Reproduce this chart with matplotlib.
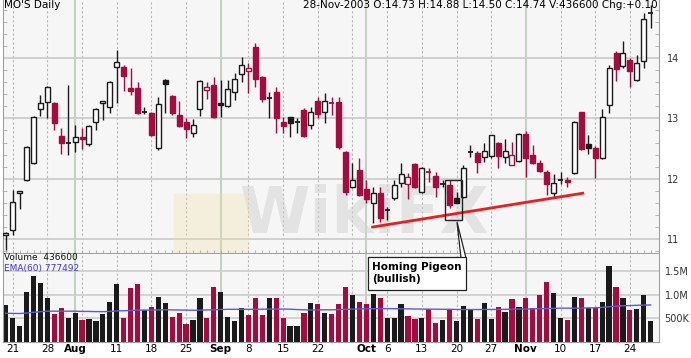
import matplotlib.pyplot as plt
import matplotlib.patches as mpatches

# daily candles, 18-Jul-2003 .. 28-Nov-2003 (trading days)
opens = [11.07, 11.15, 11.76, 11.98, 12.26, 13.15, 13.27, 13.25, 12.71, 12.58,
         12.61, 12.69, 12.57, 12.94, 13.25, 13.19, 13.85, 13.85, 13.50, 13.50,
         13.09, 13.09, 12.51, 13.64, 13.37, 13.05, 12.94, 12.76, 13.15, 13.47,
         13.55, 13.26, 13.20, 13.44, 13.73, 13.78, 14.18, 13.68, 13.31, 13.44,
         12.94, 13.02, 12.93, 13.14, 12.89, 13.29, 13.10, 13.27, 13.27, 12.44,
         11.86, 12.14, 11.83, 11.60, 11.76, 11.47, 11.68, 11.93, 11.91, 12.24,
         11.78, 12.09, 12.04, 11.90, 11.89, 11.68, 11.69, 12.43, 12.42, 12.36,
         12.37, 12.59, 12.36, 12.23, 12.29, 12.74, 12.39, 12.26, 12.11, 11.76,
         11.97, 11.98, 12.09, 13.10, 12.57, 12.51, 12.34, 13.22, 14.08, 13.87,
         13.97, 13.64, 13.95, 14.73]
highs = [11.12, 11.81, 11.80, 12.54, 13.04, 13.39, 13.53, 13.27, 12.84, 13.55,
         12.89, 12.84, 12.89, 13.17, 13.29, 13.62, 14.13, 13.88, 13.83, 13.60,
         13.19, 13.10, 13.35, 13.65, 13.38, 13.29, 13.00, 12.99, 13.63, 13.60,
         13.68, 13.64, 13.64, 13.75, 14.02, 13.92, 14.25, 13.70, 13.44, 13.52,
         13.02, 13.03, 13.00, 13.17, 13.19, 13.35, 13.42, 13.35, 13.35, 12.46,
         12.26, 12.34, 11.98, 11.86, 11.86, 11.53, 11.98, 12.26, 12.09, 12.26,
         12.19, 12.18, 12.11, 11.98, 11.98, 11.78, 12.23, 12.56, 12.46, 12.59,
         12.73, 12.61, 12.66, 12.61, 12.76, 12.79, 12.56, 12.31, 12.14, 12.08,
         12.11, 12.03, 12.96, 13.11, 12.72, 12.54, 13.15, 13.88, 14.12, 14.28,
         14.00, 14.05, 14.75, 14.88]
lows = [10.82, 11.06, 11.50, 11.97, 12.25, 13.04, 13.00, 12.81, 12.41, 12.39,
        12.44, 12.49, 12.55, 12.81, 12.97, 13.09, 13.25, 13.45, 13.39, 13.08,
        13.08, 12.70, 12.47, 13.09, 13.05, 12.85, 12.67, 12.69, 13.04, 13.32,
        13.00, 13.02, 13.19, 13.30, 13.60, 13.42, 13.52, 13.27, 13.00, 12.76,
        12.76, 12.69, 12.76, 12.69, 12.82, 13.00, 12.92, 13.05, 12.50, 11.73,
        11.85, 11.72, 11.60, 11.26, 11.28, 11.31, 11.64, 11.86, 11.66, 11.84,
        11.76, 11.94, 11.69, 11.86, 11.51, 11.59, 11.68, 12.36, 12.09, 12.27,
        12.35, 12.18, 12.26, 12.22, 12.27, 12.03, 12.25, 12.11, 11.73, 11.69,
        11.91, 11.86, 12.08, 12.48, 12.41, 12.01, 12.33, 13.09, 13.62, 13.83,
        13.52, 13.62, 13.83, 14.50]
closes = [11.10, 11.61, 11.79, 12.52, 13.02, 13.25, 13.52, 12.92, 12.59, 12.60,
          12.69, 12.66, 12.87, 13.15, 13.28, 13.60, 13.93, 13.70, 13.46, 13.09,
          13.10, 12.72, 13.24, 13.57, 13.09, 12.87, 12.82, 12.89, 13.62, 13.52,
          13.02, 13.22, 13.49, 13.65, 13.88, 13.83, 13.65, 13.32, 13.33, 13.00,
          12.87, 12.92, 12.94, 12.71, 13.10, 13.08, 13.29, 13.26, 12.52, 11.78,
          11.98, 11.73, 11.66, 11.76, 11.35, 11.49, 11.89, 12.08, 12.03, 11.86,
          12.18, 12.11, 11.86, 11.91, 11.56, 11.60, 12.18, 12.45, 12.27, 12.46,
          12.72, 12.37, 12.46, 12.39, 12.74, 12.34, 12.26, 12.13, 11.91, 11.93,
          11.98, 11.95, 12.94, 12.49, 12.51, 12.34, 13.02, 13.83, 13.81, 14.08,
          13.78, 13.92, 14.64, 14.74]
# volume, thousands of shares
volumes = [777, 493, 330, 1047, 1394, 1238, 932, 578, 706, 507,
           600, 457, 472, 436, 578, 834, 1223, 493, 1132, 1223,
           670, 728, 953, 826, 515, 613, 372, 457, 919, 493,
           1153, 1060, 528, 443, 706, 564, 919, 564, 919, 919,
           493, 330, 330, 613, 813, 798, 613, 578, 798, 1166,
           989, 847, 798, 1011, 919, 493, 493, 791, 549, 479,
           507, 685, 387, 457, 692, 443, 755, 670, 479, 826,
           479, 728, 635, 904, 728, 932, 706, 989, 1273, 1025,
           507, 457, 953, 932, 706, 706, 834, 1606, 1153, 919,
           670, 685, 989, 436.6]
# EMA(60) of volume as drawn, thousands
ema60 = [600, 598, 596, 605, 620, 635, 645, 645, 645, 645,
         645, 640, 640, 636, 636, 640, 650, 655, 660, 668,
         668, 670, 672, 675, 672, 670, 668, 665, 668, 672,
         675, 680, 685, 685, 685, 685, 685, 688, 690, 690,
         690, 688, 680, 675, 670, 672, 675, 675, 678, 685,
         690, 692, 695, 698, 698, 700, 698, 695, 695, 692,
         690, 688, 688, 685, 685, 682, 680, 680, 680, 682,
         682, 682, 685, 688, 690, 692, 695, 698, 700, 705,
         710, 710, 708, 712, 715, 718, 725, 740, 752, 760,
         765, 770, 775, 777]

tick_idx = [1, 6, 10, 16, 21, 26, 31, 35, 40, 45, 52, 55, 60, 65, 70, 75, 80, 85, 90]
tick_lbl = ['21', '28', 'Aug', '11', '18', '25', 'Sep', '8', '15', '22',
            'Oct', '6', '13', '20', '27', 'Nov', '10', '17', '24']
month_idx = [10, 31, 52, 75]
week_idx = [1, 6, 11, 16, 21, 26, 35, 40, 45, 50, 55, 60, 65, 70, 80, 85, 90]

RED = '#a50b3e'
BLK = '#1a1a1a'
W, H = 691, 358


def fx(px):
    return px / W


def fy(py):
    return 1 - py / H


fig = plt.figure(figsize=(6.91, 3.58), dpi=100)
ax = fig.add_axes([fx(3), fy(253), fx(659) - fx(3), fy(0) - fy(253)])
axv = fig.add_axes([fx(3), fy(341.5), fx(659) - fx(3), fy(254) - fy(341.5)])

for a in (ax, axv):
    a.set_facecolor('#f6f6f6')
    a.set_xlim(-0.4, 94.2)
    for m in month_idx:
        a.axvline(m, color='#b7cbb7', lw=1.2, zorder=0)
    for w in week_idx:
        a.axvline(w, color='#b5b5b5', lw=0.8, ls=(0, (2, 2)), zorder=0)
    for s in a.spines.values():
        s.set_color('#a0a0a0')
        s.set_linewidth(0.8)
    a.spines['top'].set_visible(False)

# watermark, behind the candles
ax.text(0.55, 0.15, 'WikiFX', transform=ax.transAxes, fontsize=46, fontweight='bold',
        color='#d4d4d4', alpha=0.55, ha='center', va='center', zorder=1)
ax.add_patch(mpatches.FancyBboxPatch((0.265, -0.05), 0.105, 0.28, transform=ax.transAxes,
                                     boxstyle='round,pad=0.005', facecolor='#f1e2a0',
                                     edgecolor='none', alpha=0.3, zorder=1, clip_on=False))

# price panel
for p in [11, 12, 13, 14]:
    ax.axhline(p, color='#cdcdcd', lw=1.3, zorder=0.5)

for i in range(len(opens)):
    o, h, l, c = opens[i], highs[i], lows[i], closes[i]
    up = i == 0 or c >= closes[i - 1]
    col = BLK if up else RED
    ax.vlines(i, l, h, color=col, lw=1, zorder=2)
    if abs(c - o) < 0.025:
        ax.hlines(c, i - 0.36, i + 0.36, color=col, lw=1.3, zorder=3)
    else:
        face = 'white' if c > o else col
        ax.add_patch(mpatches.Rectangle((i - 0.36, min(o, c)), 0.72, abs(c - o),
                                        facecolor=face, edgecolor=col, lw=1, zorder=3))

# trend line and pattern box
trend_x = [52.9, 83.2]
trend_y = [11.20, 11.76]
ax.plot(trend_x, trend_y, color='#ee1c1c', lw=2, zorder=4)
ax.add_patch(mpatches.Rectangle((63.3, 11.31), 2.5, 0.67, fill=False,
                                edgecolor='#222222', lw=1, zorder=4))

ax.set_ylim(10.77, 14.96)
ax.yaxis.tick_right()
ax.set_yticks([11, 12, 13, 14])
ax.set_yticklabels(['11', '12', '13', '14'])
ax.set_yticks([10.8 + 0.2 * k for k in range(21)], minor=True)
ax.tick_params(axis='y', which='major', length=0, labelsize=7, labelcolor='#333333', pad=6)
ax.tick_params(axis='y', which='minor', left=True, right=True, direction='in',
               length=3, color='#aaaaaa')
ax.set_xticks([])
ax.set_xticks(range(94), minor=True)
ax.tick_params(axis='x', which='minor', bottom=True, direction='inout', length=4,
               color='#aaaaaa')

# volume panel
vcols = []
for i in range(len(closes)):
    vcols.append(BLK if i == 0 or closes[i] >= closes[i - 1] else RED)
for v in [500, 1000, 1500]:
    axv.axhline(v * 1000, color='#cdcdcd', lw=1.2, zorder=0.5)
axv.bar(range(94), [v * 1000 for v in volumes], width=0.75, color=vcols, zorder=2)
axv.plot(range(94), [v * 1000 for v in ema60], color='#5a5ae0', lw=1, zorder=3)
axv.set_ylim(0, 1.862e6)
axv.yaxis.tick_right()
axv.set_yticks([500000, 1000000, 1500000])
axv.set_yticklabels(['500K', '1.0M', '1.5M'])
axv.tick_params(axis='y', length=0, labelsize=7, labelcolor='#333333', pad=4)
axv.set_xticks(tick_idx)
axv.set_xticklabels(tick_lbl)
axv.tick_params(axis='x', length=0, labelsize=7.5, pad=2)
for t in axv.get_xticklabels():
    if t.get_text() in ('Aug', 'Sep', 'Oct', 'Nov'):
        t.set_fontweight('bold')
axv.set_xticks(range(94), minor=True)
axv.tick_params(axis='x', which='minor', bottom=True, direction='in', length=3,
                color='#aaaaaa')

fig.text(fx(4), fy(258), 'Volume  436600', fontsize=6.5, color='#111111', va='center')
fig.text(fx(4), fy(269), 'EMA(60) 777492', fontsize=6.5, color='#3a3ad0', va='center')

# header
fig.text(fx(4), fy(0.5), "MO'S Daily", fontsize=7.5, va='top')
fig.text(fx(658), fy(0.5), '28-Nov-2003 O:14.73 H:14.88 L:14.50 C:14.74 V:436600 Chg:+0.10',
         fontsize=7.5, va='top', ha='right')

# callout
fig.patches.append(mpatches.Polygon([(fx(457), fy(222)), (fx(461), fy(258)), (fx(466), fy(258))],
                                    closed=True, transform=fig.transFigure, facecolor='white',
                                    edgecolor='#222222', lw=0.9, zorder=5))
fig.patches.append(mpatches.Rectangle((fx(368), fy(290)), fx(98), fy(257) - fy(290),
                                      transform=fig.transFigure, facecolor='white',
                                      edgecolor='#222222', lw=0.9, zorder=5))
fig.text(fx(372), fy(273.5), 'Homing Pigeon\n(bullish)', fontsize=7.5, fontweight='bold',
         va='center', ha='left', linespacing=1.25, zorder=6)

fig.savefig('out.png', dpi=100)
